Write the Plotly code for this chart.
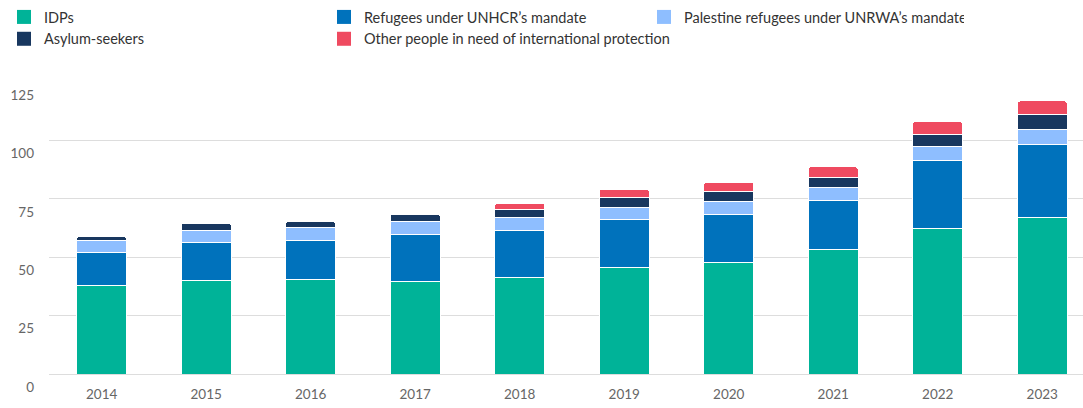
import plotly.graph_objects as go

years = ["2014", "2015", "2016", "2017", "2018", "2019", "2020", "2021", "2022", "2023"]
idps = [38.0, 40.2, 40.3, 39.8, 41.2, 45.7, 47.8, 53.1, 62.1, 67.2]
refugees_unhcr = [14.2, 16.2, 16.9, 20.0, 20.4, 20.4, 20.6, 21.0, 29.4, 31.1]
palestine_unrwa = [4.9, 5.2, 5.4, 5.4, 5.5, 5.3, 5.5, 5.8, 6.1, 6.2]
asylum_seekers = [1.7, 3.0, 2.6, 3.1, 3.4, 4.1, 4.3, 4.4, 5.1, 6.8]
other_protection = [0, 0, 0, 0, 2.6, 3.6, 3.8, 4.4, 5.3, 5.6]

series = [
    ("IDPs", idps, "#00B398"),
    ("Refugees under UNHCR\u2019s mandate", refugees_unhcr, "#0072BC"),
    ("Palestine refugees under UNRWA\u2019s mandate", palestine_unrwa, "#8EBEFF"),
    ("Asylum-seekers", asylum_seekers, "#18375F"),
    ("Other people in need of international protection", other_protection, "#EF4A60"),
]

fig = go.Figure()
for name, vals, color in series:
    fig.add_trace(go.Bar(
        x=years, y=vals, name=name, showlegend=False,
        marker=dict(color=color, line=dict(color="white", width=1)),
        width=0.48,
    ))
# legend entries (square swatches)
for name, vals, color in series:
    fig.add_trace(go.Scatter(
        x=[None], y=[None], name=name, mode="markers",
        marker=dict(symbol="square", size=14, color=color),
    ))

fig.update_layout(
    barmode="stack",
    barcornerradius=3,
    width=1083, height=408,
    margin=dict(l=49, r=0, t=82, b=34, autoexpand=False),
    paper_bgcolor="white", plot_bgcolor="white",
    font=dict(family="Lato, Open Sans, sans-serif", size=13, color="#666666"),
    legend=dict(
        orientation="h", xref="container", yref="container",
        x=4 / 1083, y=1 - 1 / 408, xanchor="left", yanchor="top",
        entrywidth=275, entrywidthmode="pixels",
        font=dict(size=14.5, color="#333333"),
        traceorder="normal", itemclick=False, itemdoubleclick=False,
        itemwidth=30, tracegroupgap=0,
    ),
    xaxis=dict(
        type="category", range=[-0.504, 9.39],
        showgrid=False, showline=False, ticks="",
        ticklabelstandoff=10,
        tickfont=dict(size=13.5, color="#666666"),
    ),
    yaxis=dict(
        range=[0, 125], tickvals=[0, 25, 50, 75, 100, 125],
        showgrid=True, gridcolor="#DDDDDD", gridwidth=1,
        zeroline=True, zerolinecolor="#DDDDDD", zerolinewidth=1,
        showline=False, ticks="",
        ticklabelshift=13, ticklabelstandoff=14,
        tickfont=dict(size=13.5, color="#666666"),
    ),
)

fig.write_html(
    "out.html",
    config={"displayModeBar": False},
    post_script="document.body.style.margin='0';",
)
